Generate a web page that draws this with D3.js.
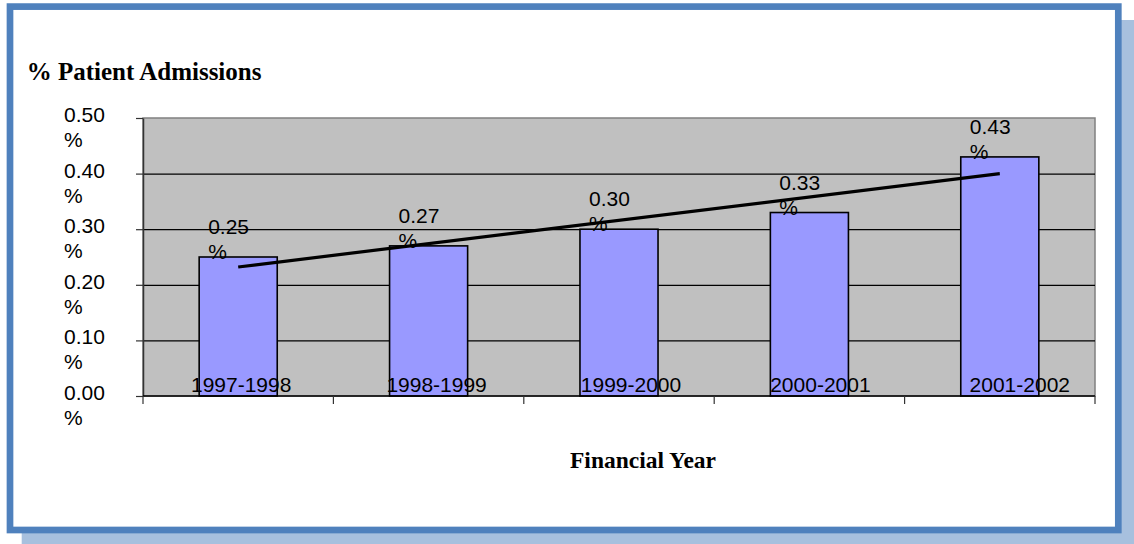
<!DOCTYPE html>
<html>
<head>
<meta charset="utf-8">
<script src="https://cdn.jsdelivr.net/npm/d3@7"></script>
<style>
  html, body { margin: 0; padding: 0; background: #ffffff; }
  svg { display: block; }
</style>
</head>
<body>
<svg id="chart" width="1134" height="544"></svg>
<script>
// Admissions share by financial year
const categories = ["1997-1998", "1998-1999", "1999-2000", "2000-2001", "2001-2002"];
const admissionPct = [0.25, 0.27, 0.30, 0.33, 0.43];
const valueLabels = ["0.25", "0.27", "0.30", "0.33", "0.43"];
const yTicks = [0, 0.1, 0.2, 0.3, 0.4, 0.5];
const yTickLabels = ["0.00", "0.10", "0.20", "0.30", "0.40", "0.50"];
const chartTitle = "% Patient Admissions";
const xTitle = "Financial Year";

const svg = d3.select("#chart");
const W = 1134, H = 544;

// Frame with drop shadow
svg.append("rect").attr("x", 21.7).attr("y", 20).attr("width", W - 21.7).attr("height", H - 20)
  .attr("fill", "#a7c0de");
svg.append("rect").attr("x", 10).attr("y", 6.6).attr("width", 1108.3).attr("height", 523.4)
  .attr("fill", "#ffffff").attr("stroke", "#4f81bd").attr("stroke-width", 6.7);

const plot = { left: 143, right: 1095, top: 118, bottom: 396 };

const x = d3.scaleBand().domain(categories).range([plot.left, plot.right]).padding(0);
const y = d3.scaleLinear().domain([0, 0.5]).range([plot.bottom, plot.top]);
const barW = x.bandwidth() * 0.41;

// Plot area
svg.append("rect")
  .attr("x", plot.left).attr("y", plot.top)
  .attr("width", plot.right - plot.left).attr("height", plot.bottom - plot.top)
  .attr("fill", "#c0c0c0").attr("stroke", "#808080").attr("stroke-width", 1.5);

// Gridlines
svg.append("g")
  .attr("transform", `translate(${plot.left},0)`)
  .call(d3.axisLeft(y).tickValues(yTicks.filter(v => v > 0 && v < 0.5))
    .tickSize(-(plot.right - plot.left)).tickFormat(""))
  .call(g => g.select(".domain").remove())
  .call(g => g.selectAll("line").attr("stroke", "#000").attr("stroke-width", 1.2));

// Y axis
svg.append("g")
  .attr("transform", `translate(${plot.left},0)`)
  .call(d3.axisLeft(y).tickValues(yTicks).tickSize(7).tickSizeOuter(0).tickFormat(""))
  .call(g => g.select(".domain").attr("stroke", "#333").attr("stroke-width", 1.5))
  .call(g => g.selectAll("line").attr("stroke", "#333").attr("stroke-width", 1.2));

const yLab = svg.append("g").attr("font-family", "'Liberation Sans', Arial, sans-serif")
  .attr("font-size", 21).attr("fill", "#000");
yTicks.forEach((v, i) => {
  const t = yLab.append("text").attr("x", 64).attr("y", y(v) + 4);
  t.append("tspan").attr("x", 64).text(yTickLabels[i]);
  t.append("tspan").attr("x", 64).attr("dy", 25).text("%");
});

// Bars
svg.append("g").selectAll("rect")
  .data(admissionPct)
  .join("rect")
  .attr("x", (d, i) => x(categories[i]) + (x.bandwidth() - barW) / 2)
  .attr("y", d => y(d))
  .attr("width", barW)
  .attr("height", d => y(0) - y(d))
  .attr("fill", "#9999ff").attr("stroke", "#000").attr("stroke-width", 1.6);

// X axis baseline and category boundary ticks
svg.append("line")
  .attr("x1", plot.left).attr("x2", plot.right)
  .attr("y1", y(0)).attr("y2", y(0))
  .attr("stroke", "#000").attr("stroke-width", 1.5);
const bounds = categories.map(c => x(c)).concat([plot.right]);
svg.append("g").selectAll("line").data(bounds).join("line")
  .attr("x1", d => d).attr("x2", d => d)
  .attr("y1", y(0)).attr("y2", y(0) + 8)
  .attr("stroke", "#333").attr("stroke-width", 1.2);

// Category labels inside the plot at the baseline
const labelShift = [3, 8, 12, 11, 20];
svg.append("g").selectAll("text").data(categories).join("text")
  .attr("x", (d, i) => x(d) + x.bandwidth() / 2 + labelShift[i])
  .attr("y", y(0) - 4)
  .attr("text-anchor", "middle")
  .attr("font-family", "'Liberation Sans', Arial, sans-serif")
  .attr("font-size", 21).attr("fill", "#000")
  .text(d => d);

// Linear trend line across the category centres
const n = admissionPct.length;
const xs = d3.range(n);
const mx = d3.mean(xs), my = d3.mean(admissionPct);
const slope = d3.sum(xs, i => (i - mx) * (admissionPct[i] - my)) / d3.sum(xs, i => (i - mx) ** 2);
const icpt = my - slope * mx;
const trend = [0, n - 1].map(i => [x(categories[i]) + x.bandwidth() / 2, y(icpt + slope * i)]);
svg.append("path")
  .attr("d", d3.line()(trend))
  .attr("stroke", "#000").attr("stroke-width", 3.2).attr("fill", "none");

// Value labels
const vLab = svg.append("g").attr("font-family", "'Liberation Sans', Arial, sans-serif")
  .attr("font-size", 21).attr("fill", "#000");
admissionPct.forEach((v, i) => {
  const bx = x(categories[i]) + (x.bandwidth() - barW) / 2 + 9;
  const t = vLab.append("text").attr("x", bx).attr("y", y(v) - 23);
  t.append("tspan").attr("x", bx).text(valueLabels[i]);
  t.append("tspan").attr("x", bx).attr("dy", 25).text("%");
});

// Titles
svg.append("text")
  .attr("x", 26.7).attr("y", 80)
  .attr("font-family", "'Liberation Serif', 'Times New Roman', serif")
  .attr("font-weight", "bold").attr("font-size", 25).attr("fill", "#000")
  .text(chartTitle);
svg.append("text")
  .attr("x", 643).attr("y", 468).attr("text-anchor", "middle")
  .attr("font-family", "'Liberation Serif', 'Times New Roman', serif")
  .attr("font-weight", "bold").attr("font-size", 23.5).attr("fill", "#000")
  .text(xTitle);
</script>
</body>
</html>
